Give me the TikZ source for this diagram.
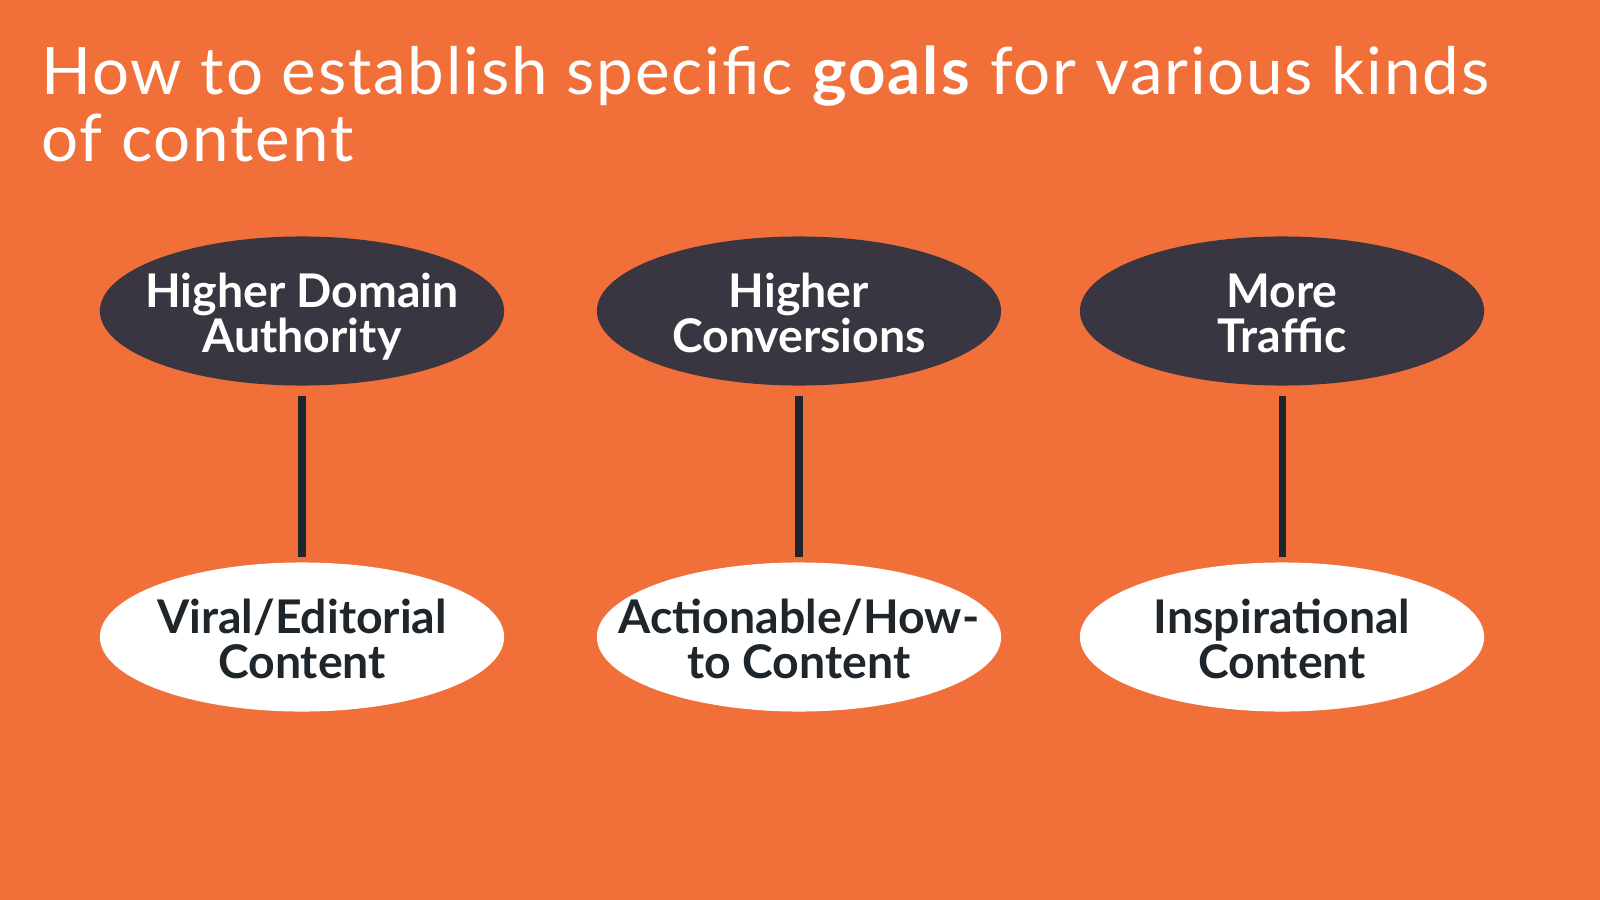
\documentclass[tikz,border=0pt]{standalone}
\usepackage{fontspec}
\setmainfont{Lato}
\usetikzlibrary{shapes.geometric}
\definecolor{bg}{HTML}{F16F38}
\definecolor{darkell}{HTML}{3A3641}
\definecolor{ink}{HTML}{1E252B}
\tikzset{
  goal/.style={ellipse, fill=darkell, draw=none, minimum width=4.04cm, minimum height=1.49cm, inner sep=0pt},
  kind/.style={goal, fill=white},
  goaltext/.style={anchor=base, inner sep=0pt, text=white, align=center, font=\fontsize{13.2}{12.7}\selectfont\bfseries},
  kindtext/.style={goaltext, text=ink},
  link/.style={draw=ink, line width=2pt}
}
\begin{document}
\begin{tikzpicture}[x=0.01cm, y=-0.01cm]
\fill[bg] (0,0) rectangle (1600,900);
\useasboundingbox (0,0) rectangle (1600,900);
\node[anchor=base west, inner sep=0, text=white, align=left, font=\fontsize{18.6}{18.8}\selectfont\addfontfeatures{LetterSpace=2.8}] (title) at (41,161) {How to establish specific \textbf{goals} for various kinds\\of content};
\node[goal] (g1) at (302,311) {};
\node[goal] (g2) at (799,311) {};
\node[goal] (g3) at (1282,311) {};
\node[kind] (k1) at (302,637) {};
\node[kind] (k2) at (799,637) {};
\node[kind] (k3) at (1282,637) {};
\node[goaltext] (g1t) at ([yshift=-0.415cm]g1.center) {Higher Domain\\Authority};
\node[goaltext] (g2t) at ([yshift=-0.415cm]g2.center) {Higher\\Conversions};
\node[goaltext] (g3t) at ([yshift=-0.415cm]g3.center) {More\\Traffic};
\node[kindtext] (k1t) at ([yshift=-0.41cm]k1.center) {Viral/Editorial\\Content};
\node[kindtext] (k2t) at ([yshift=-0.41cm]k2.center) {Actionable/How-\\to Content};
\node[kindtext] (k3t) at ([yshift=-0.41cm]k3.center) {Inspirational\\Content};
\foreach \i in {1,2,3} {
  \draw[link] ([yshift=-0.1cm]g\i.south) -- ([yshift=0.05cm]k\i.north);
}
\end{tikzpicture}
\end{document}
